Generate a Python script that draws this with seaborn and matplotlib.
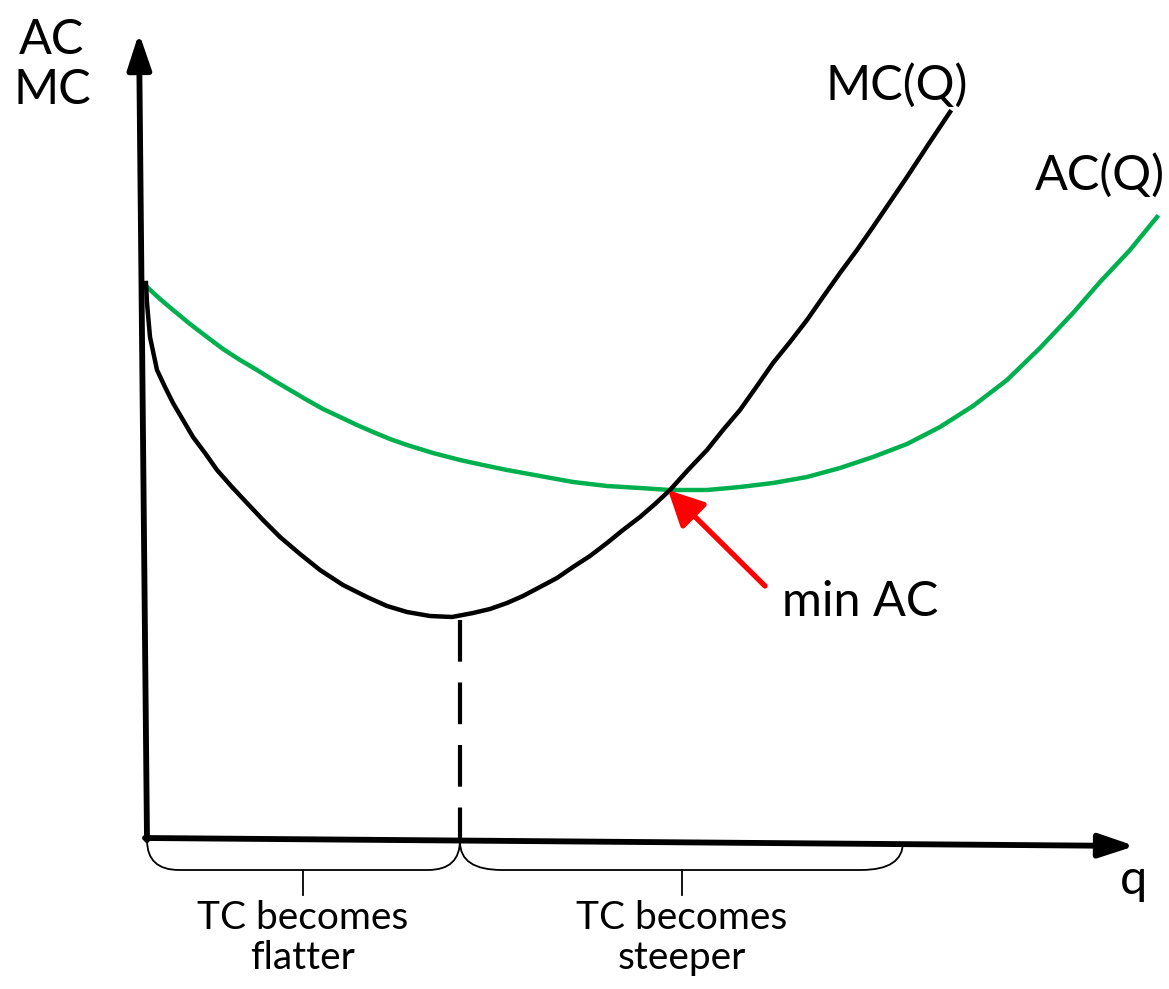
import numpy as np
import pandas as pd
import seaborn as sns
import matplotlib.pyplot as plt
from matplotlib.path import Path
from matplotlib.patches import PathPatch

# curve points (pixel-like units, y grows downward)
mc_q = [146, 147, 150, 157, 165, 173, 183, 193, 205, 217, 232, 247, 263, 280, 300, 320, 343, 367, 387,
        407, 430, 452, 473, 490, 507, 523, 540, 557, 573, 590, 607, 623, 640, 655, 670, 688, 707, 723,
        740, 757, 773, 790, 807, 823, 840, 857, 873, 890, 907, 928, 950]
mc_v = [283, 303, 337, 370, 387, 403, 420, 437, 453, 470, 487, 503, 520, 537, 554, 570, 585, 597, 606,
        612, 616, 617, 613, 609, 603, 596, 587, 578, 567, 556, 543, 530, 517, 504, 490, 470, 450, 430,
        410, 386, 363, 342, 320, 297, 273, 250, 227, 202, 177, 145, 112]
ac_q = [147, 160, 173, 190, 207, 223, 240, 257, 273, 290, 307, 323, 340, 357, 373, 390, 407, 433, 460,
        483, 507, 540, 573, 607, 640, 670, 707, 740, 773, 807, 840, 873, 907, 940, 973, 1007, 1040,
        1073, 1100, 1130, 1157]
ac_v = [287, 299, 310, 324, 337, 349, 360, 370, 380, 390, 400, 409, 417, 425, 432, 439, 445, 453, 460,
        465, 470, 476, 482, 486, 488, 490, 490, 487, 483, 477, 468, 457, 444, 427, 406, 380, 348,
        313, 282, 250, 217]

mc = pd.DataFrame({'q': mc_q, 'v': mc_v})
ac = pd.DataFrame({'q': ac_q, 'v': ac_v})

fig = plt.figure(figsize=(11.69, 9.89), dpi=100)
ax = fig.add_axes([0, 0, 1, 1])
ax.set_xlim(0, 1169)
ax.set_ylim(989, 0)
ax.axis('off')

font = 'Lato'

# axes with arrows
ax.annotate('', xy=(139, 33), xytext=(147, 840),
            arrowprops=dict(arrowstyle='-|>,head_length=0.6,head_width=0.2', lw=4.2,
                            color='black', mutation_scale=36, shrinkA=0, shrinkB=0))
ax.annotate('', xy=(1135, 846), xytext=(145, 838),
            arrowprops=dict(arrowstyle='-|>,head_length=0.6,head_width=0.2', lw=4.2,
                            color='black', mutation_scale=36, shrinkA=0, shrinkB=0))

# curves
sns.lineplot(data=ac, x='q', y='v', sort=False, estimator=None, color='#00b04f', lw=3.2, ax=ax)
sns.lineplot(data=mc, x='q', y='v', sort=False, estimator=None, color='black', lw=3.2, ax=ax)

# dashed line from MC minimum down to q axis
ax.plot([460, 460], [620, 840], color='black', lw=3, dashes=(10, 5))

# red arrow to min AC
ax.annotate('', xy=(668, 490), xytext=(765, 586),
            arrowprops=dict(arrowstyle='-|>,head_length=0.6,head_width=0.3', lw=3.8,
                            color='red', mutation_scale=36, shrinkA=0, shrinkB=0))


def brace(x0, x1, y0, y1, r0, r1, xm, ym):
    verts = [(x0, y0), (x0, y1), (x0 + r0, y1), (x1 - r1, y1), (x1, y1), (x1, y0)]
    codes = [Path.MOVETO, Path.CURVE3, Path.CURVE3, Path.LINETO, Path.CURVE3, Path.CURVE3]
    ax.add_patch(PathPatch(Path(verts, codes), fill=False, lw=1.3, color='black'))
    ax.plot([xm, xm], [y1, ym], color='black', lw=1.3)


brace(147, 460, 840, 870, 32, 32, 303, 895)
brace(460, 903, 842, 870, 42, 42, 682, 895)

# labels
ax.text(52, 65, 'AC\nMC', fontsize=35, family=font, ha='center', va='center', linespacing=1.15)
ax.text(897, 85, 'MC(Q)', fontsize=35, family=font, ha='center', va='center')
ax.text(1100, 175, 'AC(Q)', fontsize=35, family=font, ha='center', va='center')
ax.text(860, 602, 'min AC', fontsize=35, family=font, ha='center', va='center')
ax.text(1133, 880, 'q', fontsize=35, family=font, ha='center', va='center')
ax.text(303, 938, 'TC becomes\nflatter', fontsize=28, family=font, ha='center', va='center',
        linespacing=1.15)
ax.text(682, 938, 'TC becomes\nsteeper', fontsize=28, family=font, ha='center', va='center',
        linespacing=1.15)

fig.savefig('out.png', dpi=100)
